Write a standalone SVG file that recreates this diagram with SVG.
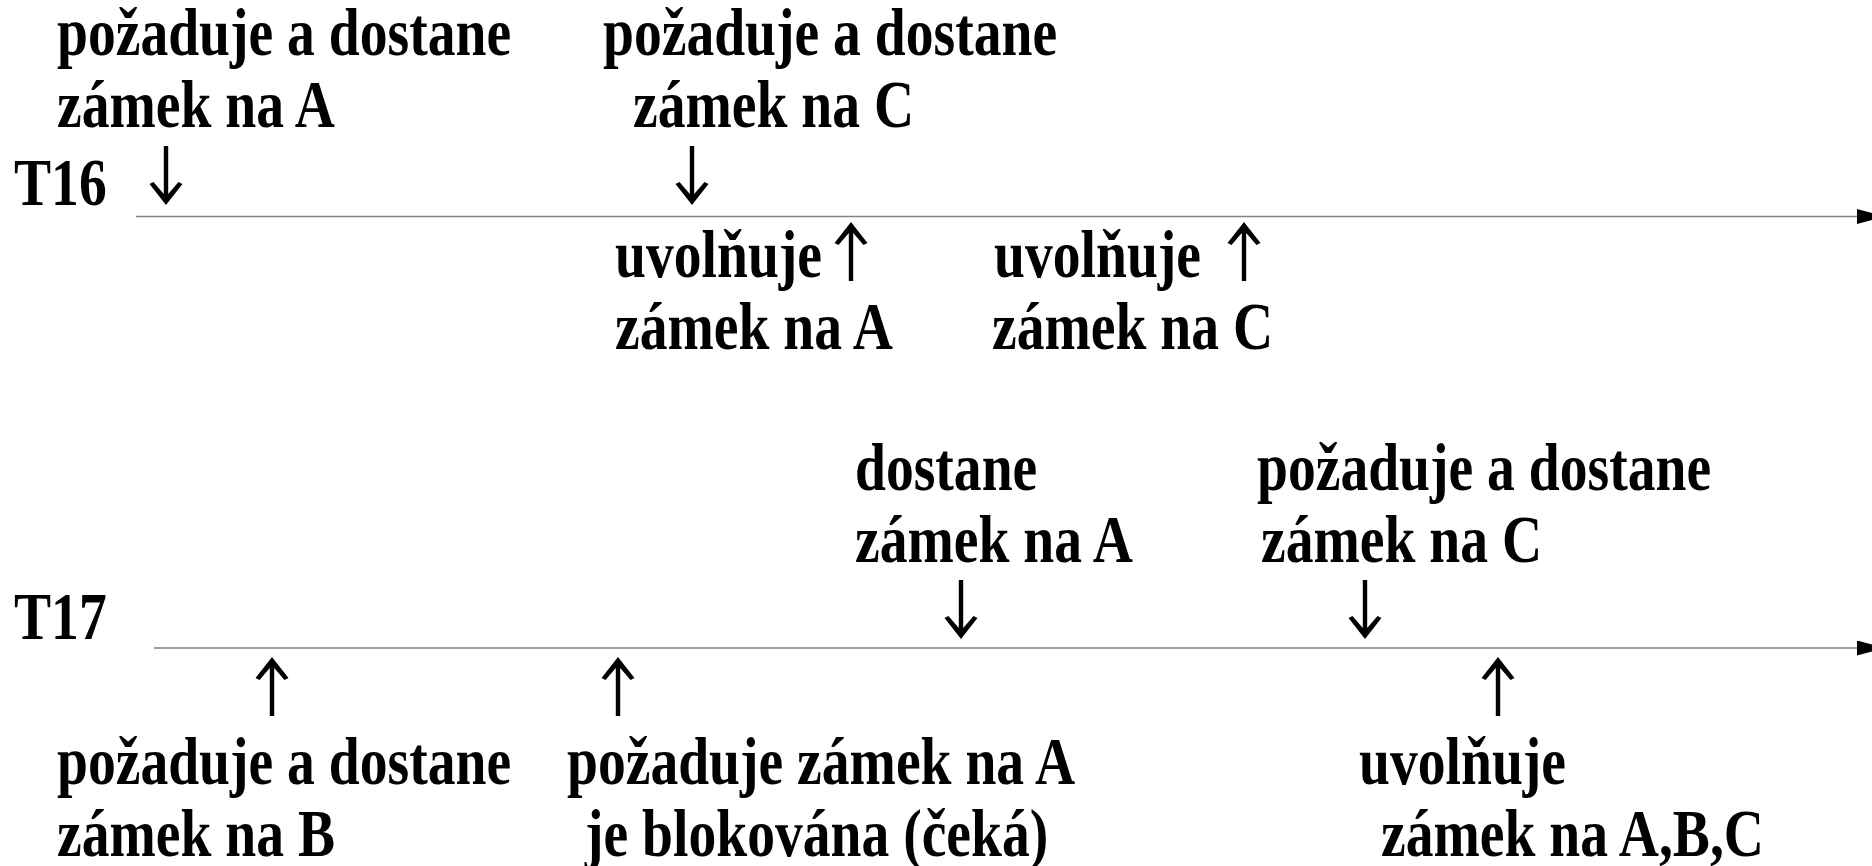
<svg xmlns="http://www.w3.org/2000/svg" xmlns:xlink="http://www.w3.org/1999/xlink" width="1872" height="866" viewBox="0 0 1872 866">
<style>
.lbl{font-family:"Liberation Serif","Times New Roman",serif;font-weight:bold;font-size:55.6px;fill:#000}
.tl{stroke:#808080;stroke-width:1.5;fill:none}
.ar{fill:#000}
</style>
<defs>
<marker id="head" markerUnits="userSpaceOnUse" markerWidth="30" markerHeight="16" refX="28" refY="7.5" orient="auto">
<path d="M0,0 L28,7.5 L0,15 Z" fill="#000"/>
</marker>
<path id="ad" class="ar" d="M-2.2,-59 H2.2 V-11 L12.5,-23 L16.5,-21 L0,0 L-16.5,-21 L-12.5,-23 L-2.2,-11 Z"/>
<path id="au" class="ar" d="M-2.2,59 H2.2 V11 L12.5,23 L16.5,21 L0,0 L-16.5,21 L-12.5,23 L-2.2,11 Z"/>
</defs>
<rect width="1872" height="866" fill="#fff"/>
<g id="connectors">
<line class="tl" x1="136" y1="216.5" x2="1885" y2="216.5" marker-end="url(#head)"/>
<line class="tl" x1="154" y1="648" x2="1885" y2="648" marker-end="url(#head)"/>
<use href="#ad" x="166" y="205"/>
<use href="#ad" x="692" y="205"/>
<use href="#au" x="851" y="222"/>
<use href="#au" x="1244" y="222"/>
<use href="#ad" x="961" y="639"/>
<use href="#ad" x="1365" y="639"/>
<use href="#au" x="272" y="657"/>
<use href="#au" x="618" y="657"/>
<use href="#au" x="1498" y="657"/>
</g>
<g id="T16"><text class="lbl" transform="translate(14,205) scale(1,1.2)">T16</text></g>
<g id="T17"><text class="lbl" transform="translate(14,639) scale(1,1.2)">T17</text></g>
<g id="t16-lock-a"><text class="lbl" transform="translate(57,55) scale(1,1.2)"><tspan x="0" y="0">požaduje a dostane</tspan><tspan x="0" y="60">zámek na A</tspan></text></g>
<g id="t16-lock-c"><text class="lbl" transform="translate(603,55) scale(1,1.2)"><tspan x="0" y="0">požaduje a dostane</tspan><tspan x="30" y="60">zámek na C</tspan></text></g>
<g id="t16-unlock-a"><text class="lbl" transform="translate(615,277) scale(1,1.2)"><tspan x="0" y="0">uvolňuje</tspan><tspan x="0" y="60">zámek na A</tspan></text></g>
<g id="t16-unlock-c"><text class="lbl" transform="translate(994,277) scale(1,1.2)"><tspan x="0" y="0">uvolňuje</tspan><tspan x="-2" y="60">zámek na C</tspan></text></g>
<g id="t17-get-a"><text class="lbl" transform="translate(855,490) scale(1,1.2)"><tspan x="0" y="0">dostane</tspan><tspan x="0" y="60">zámek na A</tspan></text></g>
<g id="t17-lock-c"><text class="lbl" transform="translate(1257,490) scale(1,1.2)"><tspan x="0" y="0">požaduje a dostane</tspan><tspan x="4" y="60">zámek na C</tspan></text></g>
<g id="t17-lock-b"><text class="lbl" transform="translate(57,784) scale(1,1.2)"><tspan x="0" y="0">požaduje a dostane</tspan><tspan x="0" y="60">zámek na B</tspan></text></g>
<g id="t17-wait-a"><text class="lbl" transform="translate(567,784) scale(1,1.2)"><tspan x="0" y="0">požaduje zámek na A</tspan><tspan x="18" y="60">je blokována (čeká)</tspan></text></g>
<g id="t17-unlock-abc"><text class="lbl" transform="translate(1359,784) scale(1,1.2)"><tspan x="0" y="0">uvolňuje</tspan><tspan x="22" y="60">zámek na A,B,C</tspan></text></g>
</svg>
